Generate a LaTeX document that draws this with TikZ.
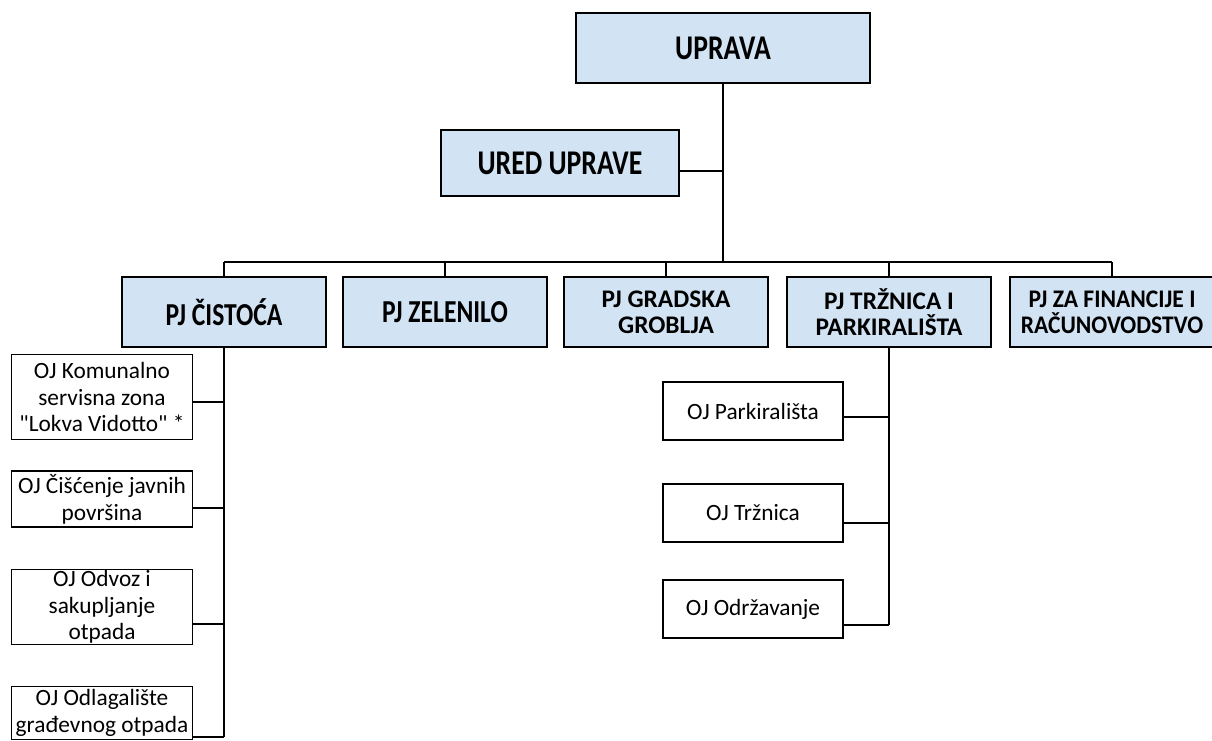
\documentclass[tikz,border=0pt]{standalone}
\usepackage{fontspec}
\setmainfont{Carlito}
\newfontfamily\condfont{Carlito}[FakeStretch=0.8]
\newfontfamily\narrowfont{Carlito}[FakeStretch=0.93]
\newfontfamily\ojfont{Carlito}
\usepackage{tikz}
\usepackage{xcolor}

\definecolor{hdrblue}{RGB}{210,227,243}
\tikzset{
  hdrbox/.style={draw, line width=1.3pt, fill=hdrblue, inner sep=0pt, align=center},
  pjbox/.style={hdrbox, minimum width=153pt, minimum height=52.5pt},
  pjone/.style={pjbox, font=\condfont\bfseries\fontsize{24}{28}\selectfont},
  pjtwo/.style={pjbox, font=\bfseries\fontsize{19}{19.5}\selectfont},
  ojbox/.style={draw, line width=1.1pt, inner sep=0pt, align=center,
    font=\ojfont\fontsize{17.5}{20}\selectfont},
  ojleft/.style={ojbox, minimum width=136pt},
  ojright/.style={ojbox, minimum width=135pt, minimum height=43.5pt},
  link/.style={line width=1.2pt}
}

\begin{document}
\begin{tikzpicture}[x=0.75pt, y=-0.75pt]
  \useasboundingbox (0,0) rectangle (1212,741);

  % top of the chart
  \node[hdrbox, minimum width=221pt, minimum height=52.5pt,
    font=\condfont\bfseries\fontsize{26}{30}\selectfont] (uprava) at (723,48) {UPRAVA};
  \node[hdrbox, minimum width=179pt, minimum height=50pt,
    font=\condfont\bfseries\fontsize{26}{30}\selectfont] (ured) at (560,163) {URED UPRAVE};

  % second row: PJ units
  \node[pjone] (cist) at (224,312) {PJ ČISTOĆA};
  \node[pjone] (zel) at (445,312) {PJ ZELENILO};
  \node[pjtwo] (grob) at (666,312) {PJ GRADSKA\\GROBLJA};
  \node[pjtwo] (trz) at (889,312) {PJ TRŽNICA I\\PARKIRALIŠTA};
  \node[pjtwo, font=\narrowfont\bfseries\fontsize{19}{19.5}\selectfont] (fin) at (1112,312)
    {PJ ZA FINANCIJE I\\RAČUNOVODSTVO};

  % OJ units under PJ Čistoća
  \node[ojleft, minimum height=64pt] (kszona) at (102,397)
    {OJ Komunalno\\servisna zona\\"Lokva Vidotto" *};
  \node[ojleft, minimum height=42pt] (cisc) at (102,499) {OJ Čišćenje javnih\\površina};
  \node[ojleft, minimum height=56pt] (odvoz) at (102,607) {OJ Odvoz i\\sakupljanje\\otpada};
  \node[ojleft, minimum height=40pt] (odlag) at (102,713) {OJ Odlagalište\\građevnog otpada};

  % OJ units under PJ Tržnica
  \node[ojright] (park) at (753,411) {OJ Parkirališta};
  \node[ojright] (trzn) at (753,513) {OJ Tržnica};
  \node[ojright] (odrz) at (753,609) {OJ Održavanje};

  % connectors
  \coordinate (bus) at (723,262);
  \coordinate (uredjoin) at (723,171);
  \draw[link] (uprava.south) -- (bus);
  \draw[link] (uredjoin -| ured.east) -- (uredjoin);
  \draw[link] (cist.north |- bus) -- (fin.north |- bus);
  \foreach \pj in {cist,zel,grob,trz,fin}
    \draw[link] (\pj.north) -- (\pj.north |- bus);

  % Čistoća branch
  \coordinate (cend) at (224,737);
  \draw[link] (cist.south) -- (cend);
  \foreach \oj/\yy in {kszona/402,cisc/508,odvoz/624,odlag/737}
    \draw[link] (\oj.east |- 0,\yy) -- (224,\yy);

  % Tržnica branch
  \coordinate (tend) at (889,625);
  \draw[link] (trz.south) -- (tend);
  \foreach \oj/\yy in {park/417,trzn/523,odrz/625}
    \draw[link] (\oj.east |- 0,\yy) -- (889,\yy);
\end{tikzpicture}
\end{document}
